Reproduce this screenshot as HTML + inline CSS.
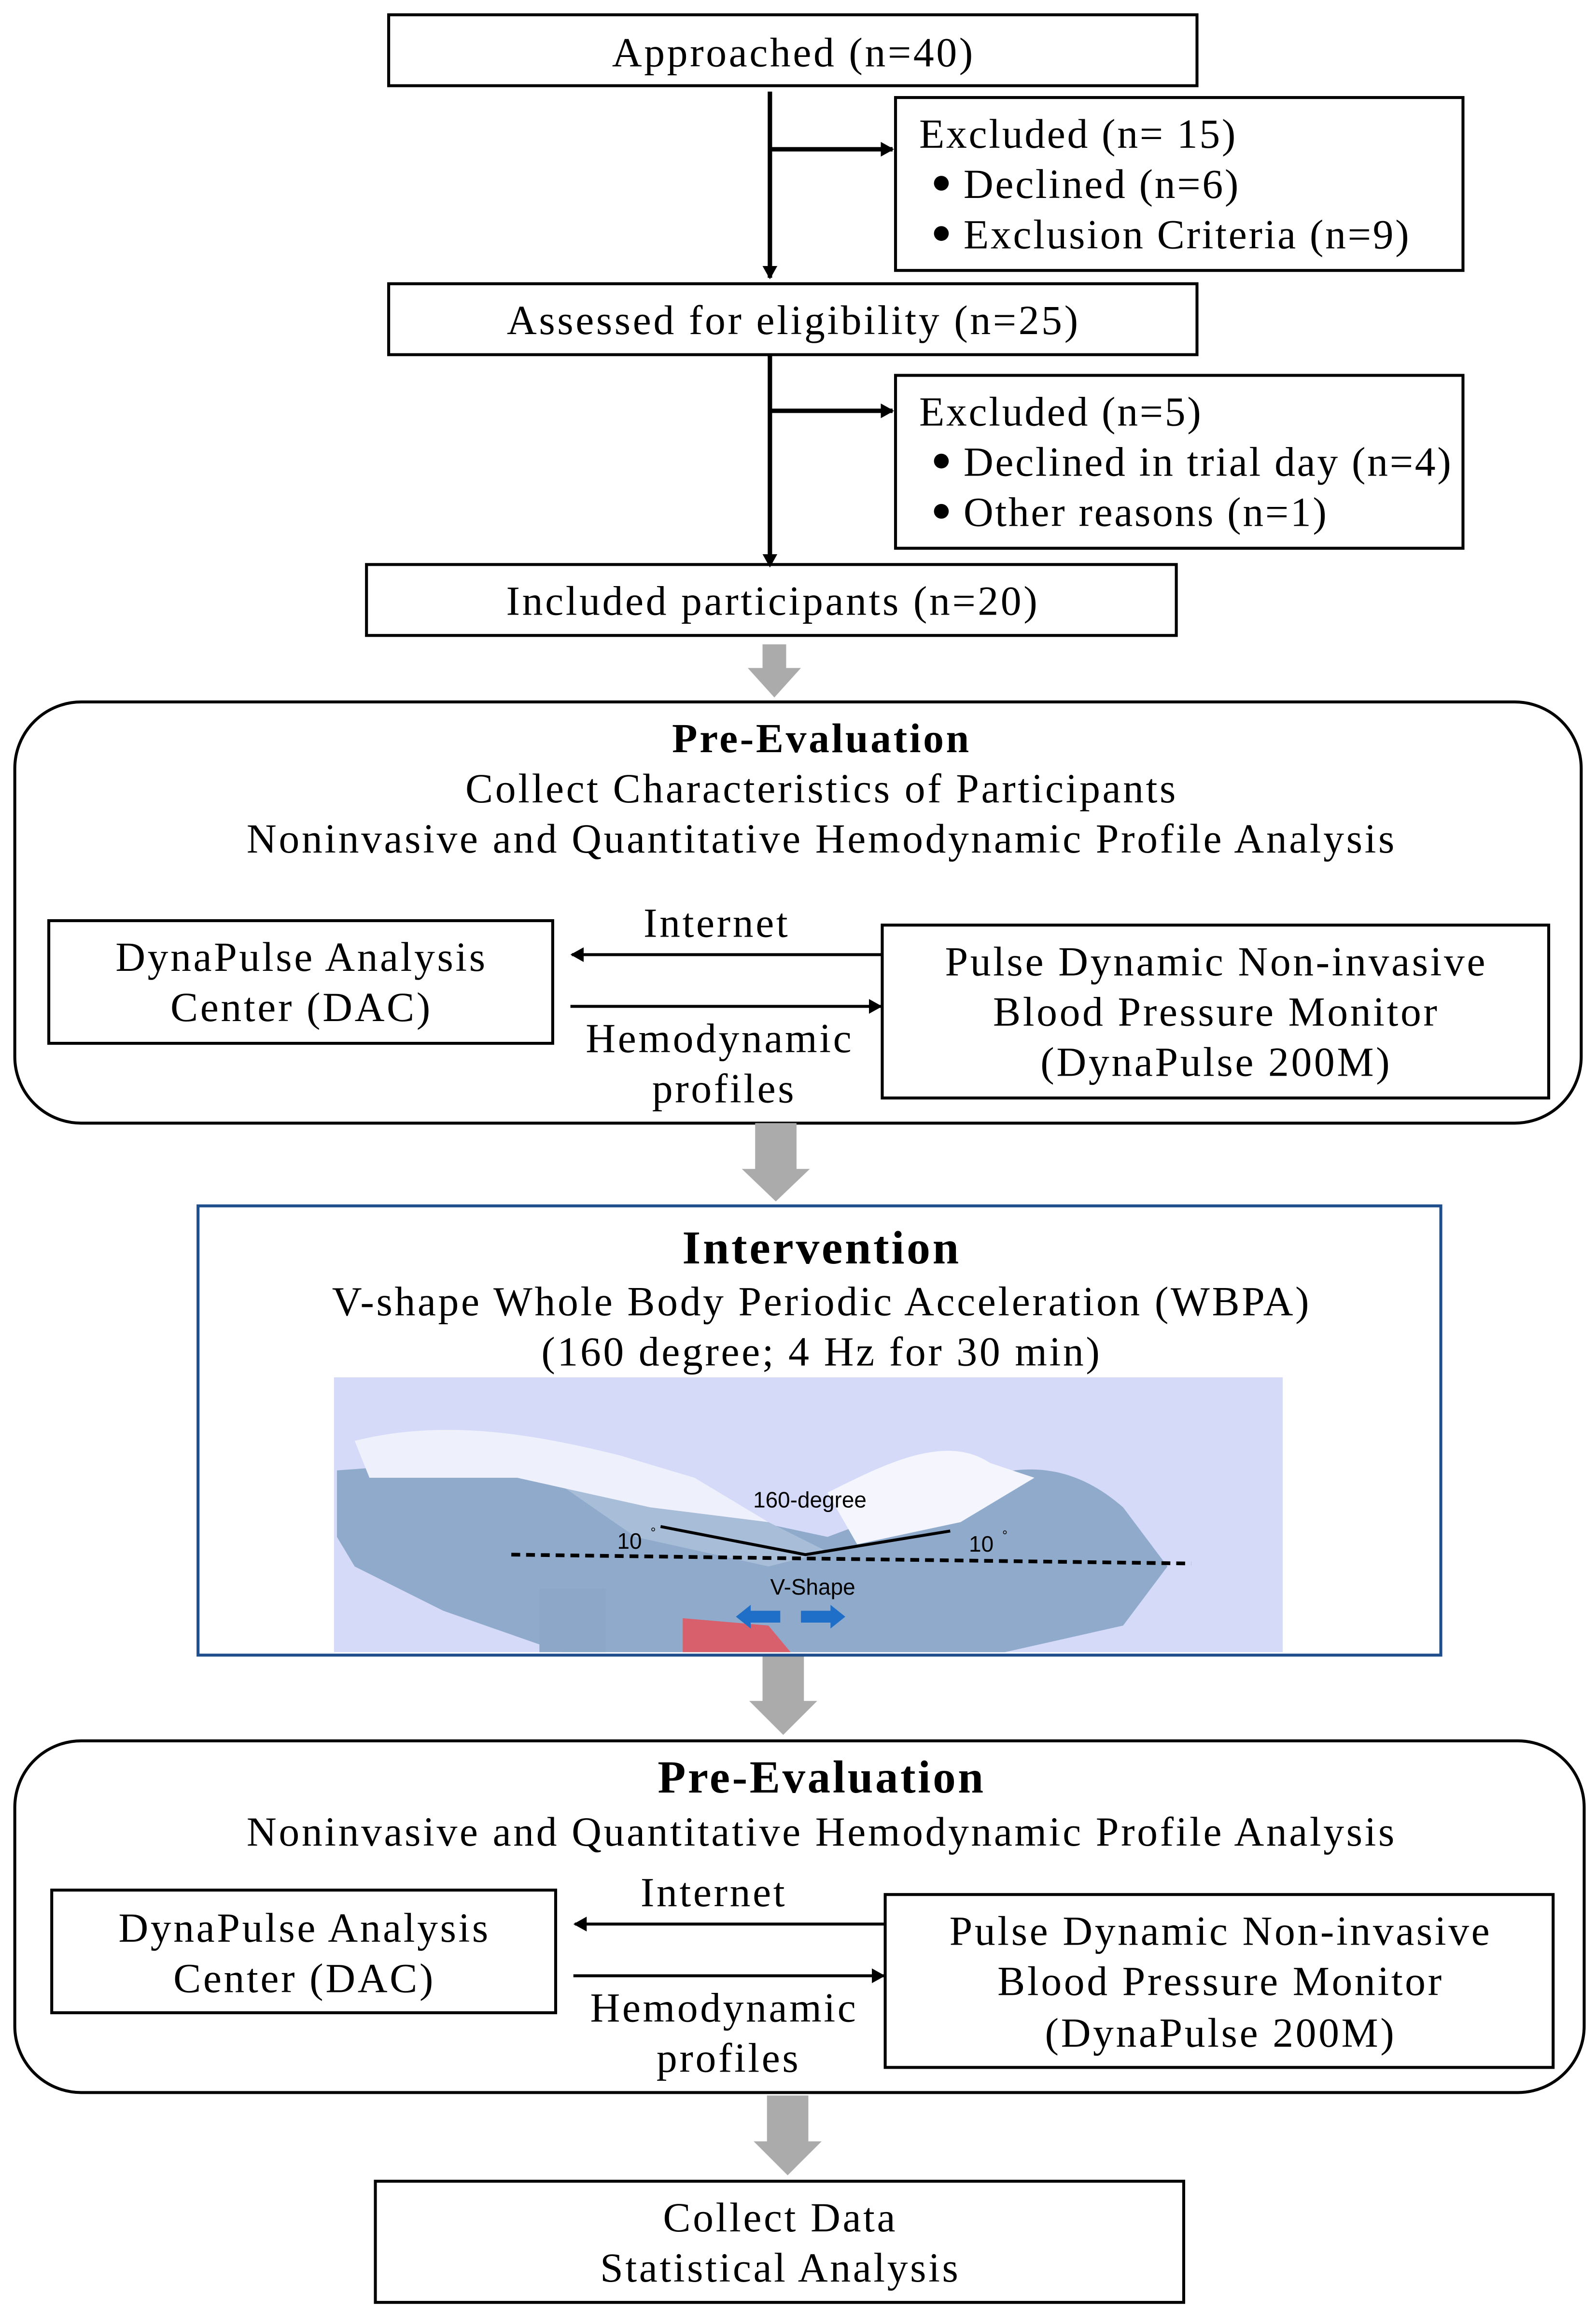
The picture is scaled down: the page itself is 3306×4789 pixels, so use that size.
<!DOCTYPE html>
<html><head><meta charset="utf-8"><style>
html,body{margin:0;padding:0;background:#fff;}
svg{display:block;}
text{font-family:"Liberation Serif",serif;fill:#000;}
.t{font-size:28px;text-anchor:middle;letter-spacing:1.5px;}
.l{font-size:28px;letter-spacing:1.2px;}
.s{font-family:"Liberation Sans",sans-serif;font-size:15px;text-anchor:middle;}
</style></head><body>
<svg width="3306" height="4789" viewBox="0 0 1080 1564.5" xmlns="http://www.w3.org/2000/svg">
<defs>
<marker id="ah" markerWidth="10" markerHeight="10" refX="8" refY="5" orient="auto" markerUnits="userSpaceOnUse">
<path d="M0,0 L9,5 L0,10 Z" fill="#000"/></marker>
</defs>
<g fill="none" stroke="#000" stroke-width="2">
<rect x="263" y="10" width="547" height="48"/>
<rect x="606" y="66" width="384" height="117"/>
<rect x="263" y="192" width="547" height="48"/>
<rect x="606" y="254" width="384" height="117"/>
<rect x="248" y="382" width="548" height="48"/>
<rect x="10" y="475" width="1060" height="285" rx="45"/>
<rect x="33" y="623" width="341" height="83"/>
<rect x="597" y="626" width="451" height="117"/>
<rect x="10" y="1178" width="1062" height="238" rx="45"/>
<rect x="35" y="1279" width="341" height="83"/>
<rect x="599" y="1282" width="452" height="117"/>
<rect x="254" y="1476" width="547" height="82"/>
</g>
<g stroke="#000" stroke-width="3" fill="none" marker-end="url(#ah)">
<line x1="521" y1="62" x2="521" y2="188"/>
<line x1="521" y1="101" x2="604" y2="101"/>
<line x1="521" y1="240" x2="521" y2="383"/>
<line x1="521" y1="278" x2="604" y2="278"/>
</g>
<g stroke="#000" stroke-width="2" fill="none" marker-end="url(#ah)">
<line x1="597" y1="646" x2="387" y2="646"/>
<line x1="386" y1="681" x2="596" y2="681"/>
<line x1="599" y1="1302" x2="389" y2="1302"/>
<line x1="388" y1="1337" x2="598" y2="1337"/>
</g>
<g fill="#ababab">
<path d="M516,436 H532 V452 H542 L524,472 L506,452 H516 Z"/>
<path d="M511,760 H539 V791 H548 L525,813 L502,791 H511 Z"/>
<path d="M516,1120 H544 V1151 H553 L530,1174 L507,1151 H516 Z"/>
<path d="M519,1418 H547 V1449 H556 L533,1472 L510,1449 H519 Z"/>
</g>
<rect x="134" y="816" width="841" height="304" fill="none" stroke="#1f4e8c" stroke-width="2"/>
<g>
<rect x="226" y="932" width="642" height="186" fill="#d5daf8"/>
<path d="M228,995 C300,990 340,985 380,988 L420,1010 L560,1040 L640,1010 C680,990 720,985 760,1020 L790,1060 L760,1100 L680,1118 L380,1118 L300,1090 L240,1060 L228,1040 Z" fill="#8faacb"/>
<path d="M365,995 C380,985 420,990 460,1000 L540,1040 L560,1050 L520,1060 L430,1040 Z" fill="#a8bdd8"/>
<path d="M240,975 C300,960 360,970 420,985 L470,1000 L520,1030 L440,1020 L350,1000 L250,1000 Z" fill="#eef0fc"/>
<path d="M560,1010 C600,990 640,970 670,990 L700,1000 L650,1030 L580,1045 Z" fill="#f4f5fd"/>
<rect x="365" y="1075" width="45" height="43" fill="#8da7c8"/>
<path d="M462,1095 L520,1100 L535,1118 L462,1118 Z" fill="#d8606c"/>
<line x1="346" y1="1052" x2="806" y2="1058" stroke="#000" stroke-width="2.5" stroke-dasharray="6,4"/>
<polyline points="447,1033 545,1052 643,1036" fill="none" stroke="#000" stroke-width="2"/>
<text class="s" x="548" y="1020">160-degree</text>
<text class="s" x="426" y="1048">10</text><text class="s" x="442" y="1040" style="font-size:9px">°</text>
<text class="s" x="664" y="1050">10</text><text class="s" x="680" y="1042" style="font-size:9px">°</text>
<text class="s" x="550" y="1079">V-Shape</text>
<path d="M498,1094 L508,1086 V1090 H528 V1098 H508 V1102 Z" fill="#1f6fc9"/>
<path d="M572,1094 L562,1086 V1090 H542 V1098 H562 V1102 Z" fill="#1f6fc9"/>
</g>
<g fill="#000"><circle cx="637" cy="124" r="5"/><circle cx="637" cy="158" r="5"/><circle cx="637" cy="312" r="5"/><circle cx="637" cy="346" r="5"/></g>
<text class="t" x="537" y="45">Approached (n=40)</text>
<text class="l" x="622" y="100">Excluded (n= 15)</text>
<text class="l" x="652" y="134">Declined (n=6)</text>
<text class="l" x="652" y="168">Exclusion Criteria (n=9)</text>
<text class="t" x="537" y="226">Assessed for eligibility (n=25)</text>
<text class="l" x="622" y="288">Excluded (n=5)</text>
<text class="l" x="652" y="322">Declined in trial day (n=4)</text>
<text class="l" x="652" y="356">Other reasons (n=1)</text>
<text class="t" x="523" y="416">Included participants (n=20)</text>
<text class="t" x="556" y="509" style="font-weight:bold">Pre-Evaluation</text>
<text class="t" x="556" y="543">Collect Characteristics of Participants</text>
<text class="t" x="556" y="577">Noninvasive and Quantitative Hemodynamic Profile Analysis</text>
<text class="t" x="204" y="657">DynaPulse Analysis</text>
<text class="t" x="204" y="691">Center (DAC)</text>
<text class="t" x="823" y="660">Pulse Dynamic Non-invasive</text>
<text class="t" x="823" y="694">Blood Pressure Monitor</text>
<text class="t" x="823" y="728">(DynaPulse 200M)</text>
<text class="t" x="485" y="634">Internet</text>
<text class="t" x="487" y="712">Hemodynamic</text>
<text class="t" x="490" y="746">profiles</text>
<text class="t" x="556" y="855" style="font-weight:bold;font-size:32px">Intervention</text>
<text class="t" x="556" y="890">V-shape Whole Body Periodic Acceleration (WBPA)</text>
<text class="t" x="556" y="924">(160 degree; 4 Hz for 30 min)</text>
<text class="t" x="556" y="1213" style="font-weight:bold;font-size:31px">Pre-Evaluation</text>
<text class="t" x="556" y="1249">Noninvasive and Quantitative Hemodynamic Profile Analysis</text>
<text class="t" x="206" y="1314">DynaPulse Analysis</text>
<text class="t" x="206" y="1348">Center (DAC)</text>
<text class="t" x="826" y="1316">Pulse Dynamic Non-invasive</text>
<text class="t" x="826" y="1350">Blood Pressure Monitor</text>
<text class="t" x="826" y="1385">(DynaPulse 200M)</text>
<text class="t" x="483" y="1290">Internet</text>
<text class="t" x="490" y="1368">Hemodynamic</text>
<text class="t" x="493" y="1402">profiles</text>
<text class="t" x="528" y="1510">Collect Data</text>
<text class="t" x="528" y="1544">Statistical Analysis</text>
</svg>
</body></html>
